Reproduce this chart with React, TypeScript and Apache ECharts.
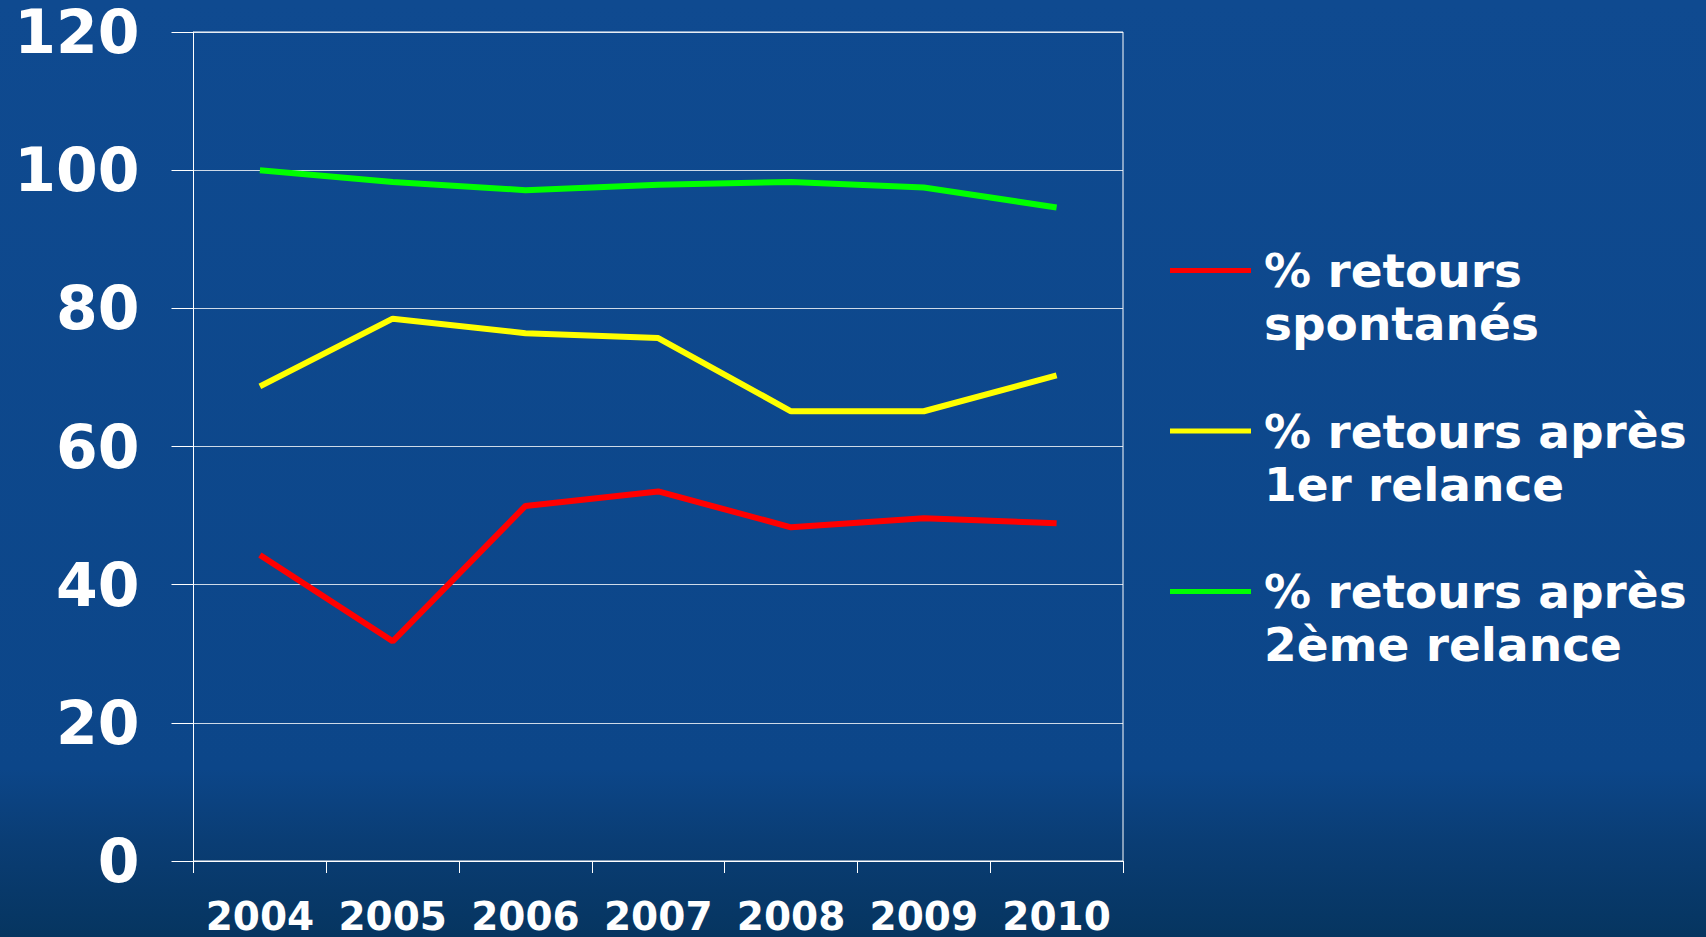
import React, { useEffect, useRef } from "react";
import * as echarts from "echarts";

const years = ["2004", "2005", "2006", "2007", "2008", "2009", "2010"];
const seriesNames = [
  "% retours spontanés",
  "% retours après 1er relance",
  "% retours après 2ème relance",
];
const legendLines: Record<string, string> = {
  "% retours spontanés": "% retours\nspontanés",
  "% retours après 1er relance": "% retours après\n1er relance",
  "% retours après 2ème relance": "% retours après\n2ème relance",
};
const spontanes = [44.3, 31.8, 51.4, 53.5, 48.3, 49.6, 48.9];
const relance1 = [68.7, 78.5, 76.4, 75.7, 65.1, 65.1, 70.3];
const relance2 = [100, 98.3, 97.1, 97.9, 98.3, 97.5, 94.6];
const colors = ["#ff0000", "#ffff00", "#00ff00"];

const FONT = "'DejaVu Sans', Verdana, sans-serif";

export default function App() {
  const ref = useRef<HTMLDivElement>(null);
  useEffect(() => {
    if (!ref.current) return;
    const chart = echarts.init(ref.current, undefined, { renderer: "svg" });
    const values = [spontanes, relance1, relance2];
    chart.setOption({
      animation: false,
      backgroundColor: {
        type: "linear",
        x: 0,
        y: 0,
        x2: 0,
        y2: 1,
        colorStops: [
          { offset: 0, color: "#0f4a90" },
          { offset: 0.82, color: "#0c4689" },
          { offset: 0.9, color: "#0a3d74" },
          { offset: 1, color: "#063560" },
        ],
      },
      grid: {
        left: 193.5,
        right: 583,
        top: 32,
        bottom: 76,
        show: true,
        borderColor: "#ffffff",
        borderWidth: 1,
        containLabel: false,
      },
      legend: {
        orient: "vertical",
        left: 1170,
        top: 191,
        padding: 0,
        itemGap: 1.5,
        itemWidth: 81,
        itemHeight: 5,
        icon: "rect",
        data: seriesNames,
        formatter: (name: string) => "\n" + (legendLines[name] || name),
        textStyle: {
          color: "#ffffff",
          fontFamily: FONT,
          fontWeight: "bold",
          fontSize: 47,
          lineHeight: 53,
          padding: [0, 0, 0, 8],
        },
      },
      xAxis: {
        type: "category",
        data: years,
        boundaryGap: true,
        axisLine: { show: true, lineStyle: { color: "#ffffff", width: 1 } },
        axisTick: {
          show: true,
          length: 12,
          interval: 0,
          lineStyle: { color: "#ffffff", width: 1 },
        },
        axisLabel: {
          color: "#ffffff",
          fontFamily: FONT,
          fontWeight: "bold",
          fontSize: 39,
          lineHeight: 36,
          margin: 37,
          interval: 0,
        },
        splitLine: { show: false },
      },
      yAxis: {
        type: "value",
        min: 0,
        max: 120,
        interval: 20,
        axisLine: { show: true, lineStyle: { color: "#ffffff", width: 1 } },
        axisTick: {
          show: true,
          length: 22,
          lineStyle: { color: "#ffffff", width: 1 },
        },
        axisLabel: {
          color: "#ffffff",
          fontFamily: FONT,
          fontWeight: "bold",
          fontSize: 60,
          lineHeight: 50,
          margin: 54,
        },
        splitLine: {
          show: true,
          lineStyle: { color: "rgba(255,255,255,0.8)", width: 1 },
        },
      },
      series: seriesNames.map((name, i) => ({
        name,
        type: "line",
        data: values[i],
        showSymbol: false,
        symbol: "none",
        color: colors[i],
        lineStyle: { color: colors[i], width: 6 },
        itemStyle: { color: colors[i] },
      })),
    });
    return () => chart.dispose();
  }, []);
  return (
    <div
      ref={ref}
      style={{ position: "fixed", left: 0, top: 0, width: 1706, height: 937 }}
    />
  );
}
